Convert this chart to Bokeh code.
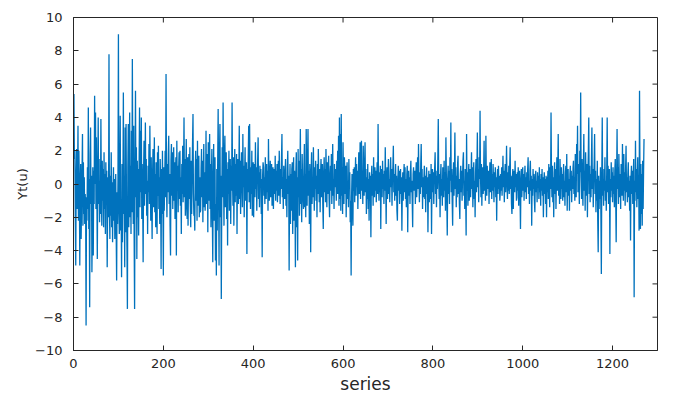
import math
from bokeh.plotting import figure
from bokeh.models import FixedTicker, Range1d
from bokeh.embed import file_html
from bokeh.resources import INLINE

# Values (one value per series index 1..1270)
yt_values = [
    # 1-50
    5.4, 1.5, 2.0, -2.0, -4.9, 0.5, 2.1, -1.5, 0.3, 3.5,
    -2.2, 2.0, 0.2, -4.9, -0.5, 1.2, -3.3, -1.0, 0.8, 3.0,
    -2.5, 1.3, -1.8, 0.4, -2.4, -0.6, -1.4, -8.5, -0.8, -2.2,
    1.0, -1.5, 4.6, -2.7, 0.3, -7.4, 1.8, 3.4, -1.2, 0.5,
    -5.3, -2.0, 1.0, -4.3, 0.8, -1.2, 5.3, 0.0, 4.3, -1.5,
    # 51-100
    2.8, -0.3, -4.5, 0.6, 4.0, -1.2, 1.5, -2.3, 0.2, -1.8,
    3.9, -0.4, -2.5, 1.4, -1.0, 0.9, -2.6, 1.9, -1.5, 0.6,
    -3.0, 1.3, -0.7, 0.8, -5.0, -1.1, 0.4, -2.0, 7.8, -1.6,
    -3.3, 0.5, -1.9, 1.9, -2.6, 0.1, -3.5, -0.6, 1.0, -2.2,
    0.3, -3.3, -1.0, 0.6, -2.8, -5.8, -0.5, -2.4, 0.2, 9.0,
    # 101-150
    -1.5, -3.0, 0.4, 4.1, -2.8, -0.9, -5.6, 1.2, -3.5, -0.6,
    5.5, -1.8, 0.5, -5.0, 3.4, -2.9, 3.6, -1.3, -3.8, -7.5,
    1.0, 3.6, -2.6, 0.3, 4.3, -2.0, 1.1, -3.0, 3.2, -1.7,
    7.5, 0.8, -2.4, 3.5, -3.2, -7.5, 0.5, 5.6, -0.8, 2.2,
    -4.5, 1.4, -2.0, 0.9, -3.1, 1.0, 4.6, -1.4, 3.2, -0.5,
    # 151-200
    4.0, -2.1, 1.2, -0.8, -4.7, 0.7, 2.6, -1.3, 0.4, 3.7,
    -0.6, 1.5, -1.9, 0.2, -3.0, 1.1, -0.5, 2.4, -1.2, 3.5,
    0.3, -2.2, 1.6, -0.9, -3.3, 0.5, 2.1, -1.4, 0.0, 2.8,
    -1.7, 0.6, -2.6, 1.3, -0.3, -3.0, 1.9, -0.7, 2.3, -1.5,
    0.4, -2.4, 1.5, -0.2, -5.1, 0.9, -1.8, 2.0, -0.9, -5.5,
    # 201-250
    1.0, -1.6, 0.3, 2.0, -0.8, 6.6, 0.2, -2.0, 1.2, -0.5,
    1.8, 2.9, -1.2, 0.6, -2.5, -4.3, 1.4, 2.4, -0.7, 1.9,
    -1.5, 0.3, 2.2, -1.0, 1.3, -2.1, 0.6, 1.6, -4.3, 2.6,
    -0.4, 1.1, -1.7, 0.8, 1.9, -0.9, 2.0, -1.3, 0.4, -3.0,
    1.2, -0.6, 2.3, -1.1, 0.7, 4.0, -0.8, 1.5, -1.9, 0.5,
    # 251-300
    2.7, -1.4, -2.1, 1.6, -2.5, 0.3, 1.8, -0.9, 2.2, -1.2,
    -2.6, 1.4, -1.8, 0.2, 2.5, 4.2, -0.6, -1.9, -1.5, -2.8,
    0.8, 2.0, -1.0, 1.5, -2.2, 2.6, -1.3, 0.5, 1.7, -2.0,
    0.4, -1.7, -1.6, 0.9, 2.1, -0.8, 1.4, -2.3, 0.3, 2.4,
    -1.4, 0.7, -1.6, -0.5, 3.2, -1.2, 0.6, 1.8, -2.9, 2.5,
    # 301-350
    -1.0, 0.8, 3.0, -1.5, 1.2, -2.6, 0.4, 2.1, -1.8, -4.7,
    0.2, 2.4, -2.2, -0.5, 1.6, -4.6, -1.2, -5.5, 0.9, -2.8,
    1.4, 4.5, -0.6, -4.9, 1.8, 3.6, -2.0, 0.5, -6.9, -1.3,
    2.2, -0.8, 4.9, 0.3, -2.5, 1.7, 2.9, -1.4, 0.6, 1.9,
    -2.1, 0.9, -3.7, 1.3, -0.6, 2.0, -1.6, 0.4, 1.5, -2.4,
    # 351-400
    1.1, -0.4, 4.9, 0.2, -1.3, 1.6, -2.5, 0.5, 2.1, -1.1,
    1.2, -0.7, 1.8, -3.0, 0.8, 1.5, -1.2, 0.3, 3.5, -0.9,
    1.4, -1.8, 0.6, 1.9, 0.3, -1.4, 3.0, -0.2, 1.1, -2.0,
    0.7, 2.2, -1.0, 0.4, 1.3, -4.2, 0.9, -0.5, 1.6, 3.5,
    -1.1, 3.6, 0.2, -1.5, 1.0, -0.6, 2.0, -1.9, 0.5, 1.3,
    # 401-450
    -2.0, 0.6, 1.2, -0.8, 2.5, -0.3, 1.0, -1.6, 0.4, 1.5,
    2.8, -0.9, 0.7, -1.4, 1.1, -0.2, 0.9, -1.8, 0.3, -4.4,
    0.5, 1.3, 1.0, -0.7, 0.4, -1.2, 1.6, 0.1, -0.9, 1.2,
    -0.5, 0.8, -1.6, 2.7, 0.2, -1.0, 0.6, 1.4, -0.8, 0.3,
    1.2, -1.3, 0.5, 1.0, -1.5, 0.2, 0.9, -0.6, 1.7, -1.0,
    # 451-500
    0.8, -0.4, 1.2, -1.1, 0.5, 1.4, -0.7, 2.0, 0.1, -1.2,
    0.9, -0.3, 1.5, 3.0, -0.8, 0.4, -1.5, 1.1, 0.2, -0.9,
    0.7, 1.5, -1.3, 0.3, -2.0, 1.0, 2.0, -0.6, 0.5, -5.2,
    -0.4, 1.2, -2.4, 0.6, -1.6, 0.9, 1.3, -3.0, 0.2, 1.6,
    -2.2, 0.8, -1.0, -5.0, 0.7, 1.9, -2.6, 0.4, -4.6, 2.1,
    # 501-550
    -0.8, 1.4, -1.9, 0.5, 3.3, -1.2, 0.9, -2.3, 1.8, 0.2,
    -0.9, -1.5, 1.1, 2.4, -1.4, 0.6, -2.0, 3.3, 0.3, -1.3,
    1.5, 3.3, -0.7, 0.8, -2.4, 1.2, -0.4, -4.1, 0.7, 1.9,
    -1.2, 0.4, -0.8, 2.2, 0.1, -1.6, 1.0, -0.3, 1.4, -1.0,
    0.5, -2.0, 1.2, -0.6, 2.1, 0.3, -1.1, 0.9, -1.7, 0.6,
    # 551-600
    1.5, -0.8, 0.4, 1.2, -1.3, -2.7, 0.7, 1.6, -0.5, 0.9,
    -1.1, 2.1, 0.2, -1.4, 1.3, -0.6, 0.8, 1.7, -0.9, -2.0,
    0.5, 1.1, -0.4, 1.8, -1.2, 0.6, 2.4, -0.7, 0.3, -1.5,
    1.2, -0.2, 0.9, 0.5, -1.0, 1.4, -0.6, 2.0, -0.6, 2.9,
    -1.3, 4.0, -0.9, 3.0, -1.6, 4.2, -0.7, 1.0, -1.8, 2.5,
    # 601-650
    0.3, -1.2, 1.6, 0.8, -0.6, 1.1, -2.0, 0.5, 1.3, -0.9,
    0.2, -1.4, 1.5, -0.3, 0.7, -2.3, -1.0, -5.5, -0.8, 0.6,
    -1.3, -2.5, 0.9, -0.4, 1.0, -1.1, 0.4, 1.6, -0.7, 1.2,
    -0.2, 0.8, -1.5, 0.3, 1.9, -0.6, 0.5, 2.5, -0.9, 1.4,
    2.6, -0.4, 0.8, -1.2, 2.3, 0.1, -0.7, 1.2, 2.5, -0.5,
    # 651-700
    0.9, -1.8, 0.4, -0.9, 1.2, -1.5, 0.3, -2.2, 0.7, -1.0,
    0.5, -3.2, 0.2, 1.1, -0.7, 0.6, -1.3, 1.6, 0.0, -0.8,
    1.0, -0.4, 0.8, -1.1, 0.4, 1.3, -0.6, 3.6, 0.2, -1.0,
    0.7, -0.5, 1.1, -2.7, 0.3, 0.9, -0.8, 1.4, -0.3, 0.6,
    -1.2, 0.8, -0.4, 2.2, 0.1, -2.4, 0.5, 1.0, -0.9, 0.4,
    # 701-750
    1.5, -0.6, 0.3, -1.1, 0.7, 1.6, -0.2, 0.9, -1.3, 0.4,
    1.0, 2.3, -0.5, 0.6, -1.0, 0.2, 1.2, -0.7, 0.5, -1.6,
    -2.2, 0.3, 1.1, -0.4, 0.8, -1.2, 0.1, 0.9, -0.6, 0.4,
    -2.8, -0.3, 0.7, -1.0, 0.5, 1.2, -0.5, 1.0, -0.9, 0.3,
    -1.4, 0.6, 1.1, -2.9, 0.2, 0.8, -0.7, 0.4, -1.2, 0.7,
    # 751-800
    1.4, -0.5, 0.2, -1.0, -2.6, 0.6, 1.0, -0.4, 0.3, 0.8,
    -1.2, 0.5, 1.3, -0.8, 0.2, 1.6, -0.3, 2.4, 0.1, -1.1,
    0.7, -0.6, 1.2, 2.4, -0.2, 0.9, -1.5, 0.4, -0.8, 0.3,
    1.1, -0.9, 0.5, -1.7, 0.2, 1.0, -0.6, 0.4, -2.9, -0.4,
    0.8, -1.1, 0.6, 0.4, -0.9, 1.2, -3.0, 0.1, 0.9, -0.5,
    # 801-850
    0.7, -1.2, 0.3, 1.0, 1.9, -0.6, 0.5, -1.4, 0.8, -0.3,
    1.5, 3.9, 0.2, -0.9, 0.6, -2.0, 0.4, 1.2, -0.7, 0.3,
    -1.3, 1.0, 0.0, -0.8, 1.4, -0.4, 0.7, -1.6, 2.8, 0.5,
    -1.0, -3.1, 0.3, 1.1, -0.6, 0.8, -1.2, 1.6, 0.2, 3.7,
    -0.5, 0.9, -1.1, -2.5, 0.4, 1.3, -0.7, 0.6, 3.1, -0.3,
    # 851-900
    1.0, -1.4, 0.5, -0.8, 1.2, 1.7, -0.6, 0.3, -1.2, -2.1,
    0.6, 1.1, -0.5, 0.8, -1.0, 0.4, 1.4, 1.9, -0.7, 0.2,
    -1.5, 0.9, -0.6, -3.1, 3.0, -0.4, 0.7, -1.3, 0.5, 1.2,
    -1.0, 0.3, 0.9, -0.8, 0.6, 1.9, -0.3, 1.0, -1.4, 0.4,
    1.3, -0.9, 0.2, -2.0, 0.7, 1.5, -0.5, 0.8, 3.1, -0.2,
    # 901-950
    0.9, -1.1, 1.6, 0.3, 4.4, 0.5, -0.8, 1.2, -1.3, 0.4,
    1.0, -0.6, 0.7, 2.6, -0.4, 0.9, -1.0, 2.9, 0.2, -0.7,
    1.1, -0.3, 0.0, 0.8, -1.2, 0.5, 1.3, -0.5, 0.3, 1.5,
    -0.9, 0.6, -0.4, 1.2, 0.1, -1.1, 0.7, -0.2, 1.0, -0.8,
    0.4, -2.2, 0.3, 0.9, -0.6, 1.1, -0.3, 0.5, -1.0, -0.5,
    # 951-1000
    0.6, -0.4, 1.0, -0.7, 0.3, 1.7, -0.2, 0.8, -1.1, 0.4,
    1.2, -0.5, 0.6, 2.3, 0.0, -0.9, 0.7, -0.4, 1.1, -0.6,
    1.0, 2.2, -0.3, 0.5, -1.2, -1.8, 0.4, 0.9, -1.5, 0.2,
    0.8, -0.5, 1.4, -0.2, 0.6, -1.0, -0.8, 0.7, -0.4, 1.0,
    -1.3, 0.3, 0.8, -0.6, -2.7, 0.2, 0.9, -0.8, 0.5, 1.0,
    # 1001-1050
    -0.4, 0.6, -1.0, 0.3, 1.1, -0.5, 0.4, -0.9, 0.7, -0.2,
    0.9, 1.6, -0.6, 0.2, -1.2, 0.8, 1.4, -0.4, 0.5, -2.5,
    0.3, -0.7, 0.9, -0.3, 0.6, -1.0, -1.7, 0.4, 0.8, -0.5,
    0.2, -1.1, 0.7, -0.2, 0.5, -0.9, 1.0, -0.5, 0.3, -1.3,
    0.6, -0.4, 0.9, -0.7, 0.4, -2.0, 0.1, 0.7, -0.6, 0.3,
    # 1051-1100
    -1.2, 0.5, -2.0, 0.4, -0.5, 0.8, -0.9, 1.2, 0.2, -1.4,
    1.0, -0.3, 4.3, 0.6, -0.8, 1.1, -1.1, 0.4, -2.0, 0.7,
    1.3, -0.6, 0.9, -1.5, 0.3, 1.6, -0.4, 0.8, 3.0, -0.7,
    0.5, -1.2, 1.5, 0.1, -0.9, 1.0, -0.3, 0.6, -1.0, 0.4,
    1.2, -0.8, 0.2, -1.3, 0.7, 1.1, -0.5, 1.8, -1.6, 0.5,
    # 1101-1150
    0.9, -0.7, 0.3, -1.6, 0.6, 1.1, -0.4, 0.8, -1.1, 0.5,
    -0.3, 1.0, 1.4, -0.6, 0.4, -1.0, 1.8, 0.2, -0.8, 2.4,
    0.6, 3.5, -0.5, 1.2, 0.3, -1.2, 2.0, 0.7, 5.5, 0.4,
    -0.9, 1.5, 0.1, -1.3, 1.0, 3.0, -0.4, 0.8, -1.6, 1.9,
    0.3, -0.7, 1.2, -2.0, 0.5, 1.8, 4.0, -0.6, 1.1, -1.1,
    # 1151-1200
    0.6, -0.8, 1.5, 3.4, -0.3, 0.9, -1.4, 0.4, 1.2, 3.0,
    -0.6, 0.8, -1.7, 0.3, -1.0, 1.4, -2.2, -4.1, 0.5, -1.5,
    0.2, -0.9, 1.0, -1.8, -5.4, 0.6, 4.0, -0.7, 0.3, -1.3,
    0.9, -0.4, 1.6, -1.0, 0.2, -1.6, 0.8, 4.0, -0.5, 1.1,
    -1.2, 0.4, 0.9, -4.2, 0.3, -0.8, 1.3, -0.4, 0.7, -1.1,
    # 1201-1270
    1.0, -0.6, 0.5, -1.4, 0.8, 1.5, -0.9, -3.5, 0.4, 3.3,
    -0.3, 1.0, -1.2, 1.8, 0.2, -0.8, 0.6, -1.5, 1.2, 0.3,
    -0.7, 2.4, 0.1, -1.0, 1.8, -0.4, 0.7, -1.3, 0.9, 2.3,
    -0.5, 0.4, -1.1, 0.6, 1.3, -0.8, 0.2, -1.6, 0.5, -3.4,
    0.3, 1.1, -0.6, 0.8, -1.2, 0.4, 1.5, -6.8, 0.2, -1.0,
    2.6, -0.5, 0.9, -1.4, 0.3, 1.6, -0.9, 0.5, -2.8, 5.6,
    0.4, -2.7, 1.2, -1.8, 0.6, -2.5, 1.4, -1.5, 0.8, 2.7,
]
series_index = list(range(1, len(yt_values) + 1))

x_ticks = [0, 200, 400, 600, 800, 1000, 1200]
y_ticks = [-10, -8, -6, -4, -2, 0, 2, 4, 6, 8, 10]
x_limits = (0, 1300)
y_limits = (-10, 10)
x_label = "series"
y_label = "Yt(u)"

AX = "#262626"
FONT = "DejaVu Sans"

p = figure(width=674, height=396, output_backend="svg", toolbar_location=None,
           x_range=Range1d(*x_limits), y_range=Range1d(*y_limits),
           min_border_left=73, min_border_right=17, min_border_top=17,
           min_border_bottom=45, background_fill_color="white",
           border_fill_color="white")
p.grid.visible = False
p.outline_line_color = AX
p.outline_line_width = 1

p.line(series_index, yt_values, line_color="#0072BD", line_width=1.3)

# inward tick marks on the top and right edges of the box
p.ray(x=x_ticks, y=[y_limits[1]] * len(x_ticks), length=5, length_units="screen",
      angle=-math.pi / 2, line_color=AX, line_width=1)
p.ray(x=[x_limits[1]] * len(y_ticks), y=y_ticks, length=5, length_units="screen",
      angle=math.pi, line_color=AX, line_width=1)


def style_axis(ax, ticks):
    ax.ticker = FixedTicker(ticks=ticks)
    ax.axis_line_color = AX
    ax.axis_line_width = 1
    ax.major_tick_line_color = AX
    ax.major_tick_in = 5
    ax.major_tick_out = 0
    ax.minor_tick_line_color = None
    ax.major_label_text_color = AX
    ax.major_label_text_font = FONT
    ax.major_label_text_font_size = "13px"
    ax.axis_label_text_font = FONT
    ax.axis_label_text_font_style = "normal"
    ax.axis_label_text_color = AX


xa = p.xaxis[0]
style_axis(xa, x_ticks)
xa.major_label_standoff = 8
xa.axis_label = x_label
xa.axis_label_text_font_size = "17px"
xa.axis_label_standoff = 3

ya = p.yaxis[0]
style_axis(ya, y_ticks)
ya.major_label_standoff = 11
ya.axis_label = y_label
ya.axis_label_text_font_size = "13px"
ya.axis_label_standoff = 2

open("out.html", "w").write(file_html(p, INLINE))
